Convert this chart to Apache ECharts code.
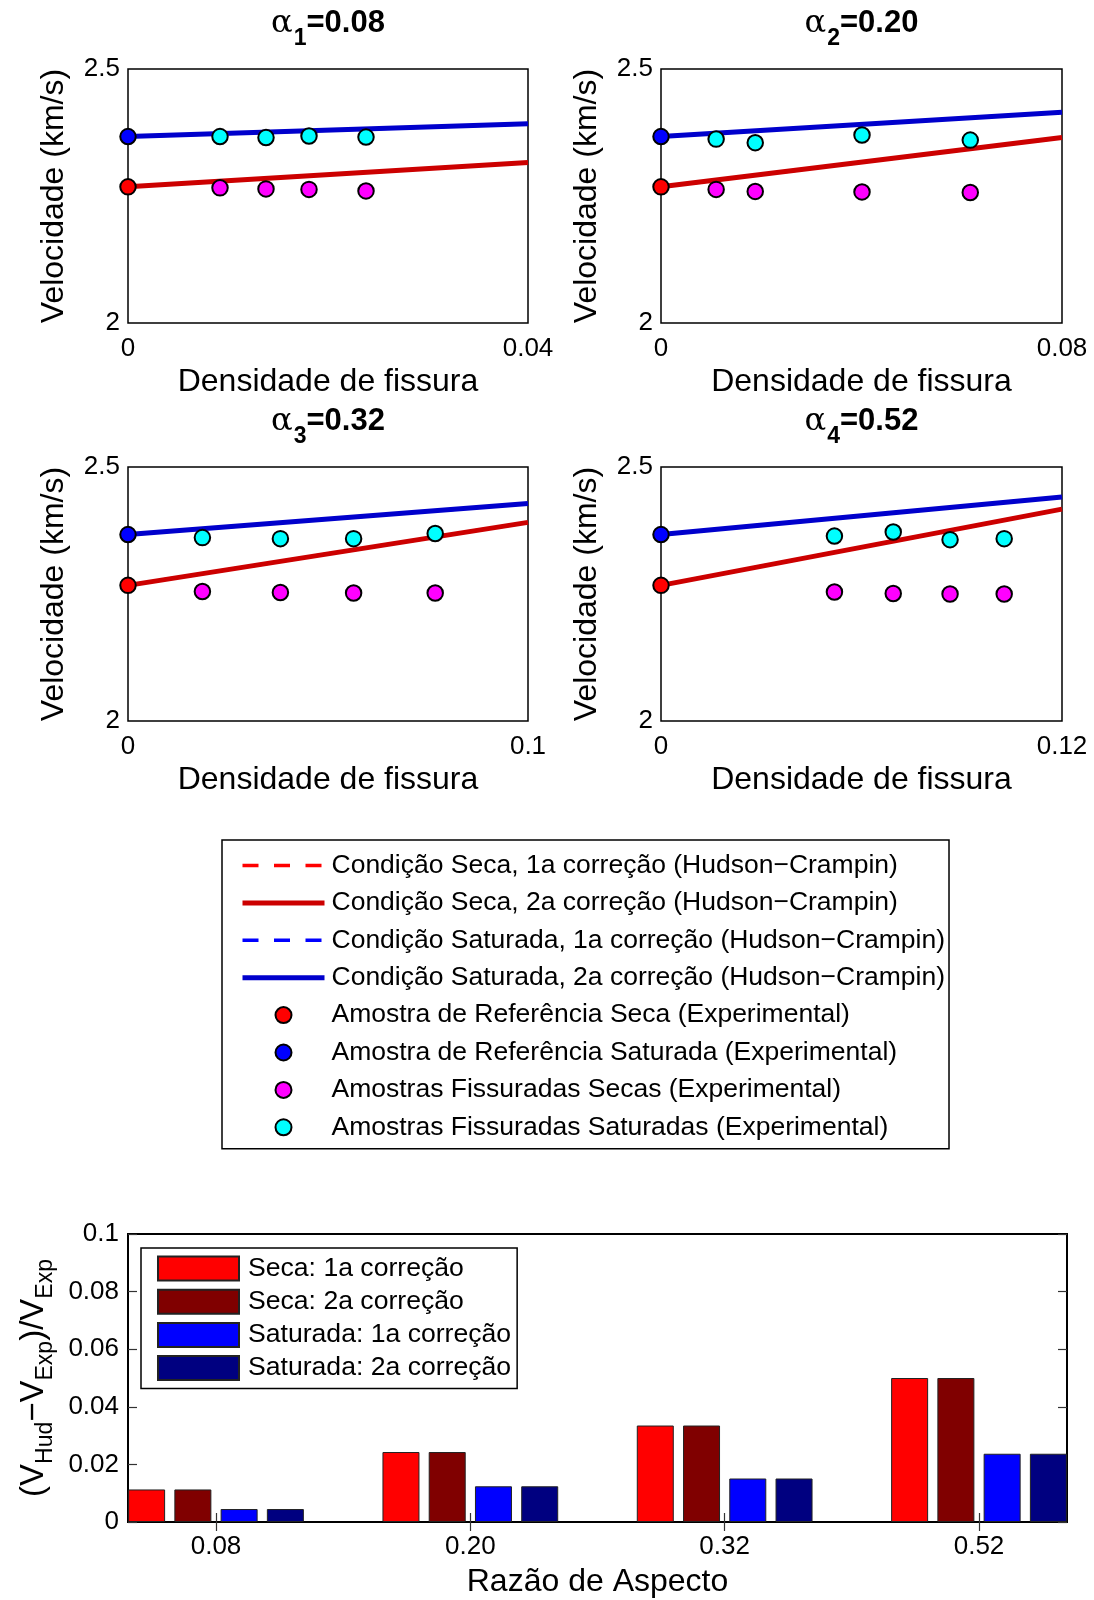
<!DOCTYPE html>
<html><head><meta charset="utf-8">
<script src="https://cdn.jsdelivr.net/npm/echarts@6/dist/echarts.min.js"></script>
<style>html,body{margin:0;padding:0;background:#fff}#c{width:1094px;height:1600px}</style>
</head><body><div id="c"></div>
<script>
// ---------------- DATA ----------------
const alphaLabels = ['0.08', '0.20', '0.32', '0.52'];
const crackDensityMax = [0.04, 0.08, 0.1, 0.12];
const refSeca = [2.268, 2.268, 2.267, 2.267];
const refSaturada = [2.367, 2.367, 2.367, 2.367];
const secaLineEnd = [2.316, 2.365, 2.391, 2.417];
const saturadaLineEnd = [2.392, 2.415, 2.428, 2.441];
const crackDensity = [
  [0.0092, 0.0138, 0.0181, 0.0238],
  [0.0110, 0.0188, 0.0401, 0.0617],
  [0.0186, 0.0381, 0.0564, 0.0768],
  [0.0519, 0.0695, 0.0865, 0.1027]
];
const fissSeca = [
  [2.266, 2.264, 2.263, 2.260],
  [2.263, 2.259, 2.258, 2.257],
  [2.255, 2.253, 2.252, 2.252],
  [2.254, 2.251, 2.250, 2.250]
];
const fissSaturada = [
  [2.367, 2.365, 2.368, 2.366],
  [2.362, 2.355, 2.370, 2.360],
  [2.361, 2.359, 2.359, 2.369],
  [2.364, 2.372, 2.357, 2.359]
];
const aspectRatioLabels = ['0.08', '0.20', '0.32', '0.52'];
const errSecaCorr1 = [0.0113, 0.0243, 0.0335, 0.0500];
const errSecaCorr2 = [0.0113, 0.0243, 0.0335, 0.0500];
const errSatCorr1 = [0.0045, 0.0124, 0.0151, 0.0237];
const errSatCorr2 = [0.0045, 0.0124, 0.0151, 0.0237];

// ---------------- NAMES ----------------
const N_SECA1 = 'Condição Seca, 1a correção (Hudson−Crampin)';
const N_SECA2 = 'Condição Seca, 2a correção (Hudson−Crampin)';
const N_SAT1 = 'Condição Saturada, 1a correção (Hudson−Crampin)';
const N_SAT2 = 'Condição Saturada, 2a correção (Hudson−Crampin)';
const N_REFS = 'Amostra de Referência Seca (Experimental)';
const N_REFT = 'Amostra de Referência Saturada (Experimental)';
const N_FS = 'Amostras Fissuradas Secas (Experimental)';
const N_FT = 'Amostras Fissuradas Saturadas (Experimental)';
const B_NAMES = ['Seca: 1a correção', 'Seca: 2a correção', 'Saturada: 1a correção', 'Saturada: 2a correção'];
const B_COLORS = ['#FF0000', '#800000', '#0000FF', '#000080'];

// ---------------- LAYOUT ----------------
const FONT = '"Liberation Sans", Arial, Helvetica, sans-serif';
const DASH = [16, 15.5];
const panels = [
  {left: 128, top: 69, width: 400, height: 254},
  {left: 661, top: 69, width: 401, height: 254},
  {left: 128, top: 467, width: 400, height: 254},
  {left: 661, top: 467, width: 401, height: 254}
];
const barGrid = {left: 128, top: 1234, width: 939, height: 288};

const grids = [], xAxes = [], yAxes = [], series = [], titles = [];

panels.forEach((p, i) => {
  grids.push({left: p.left, top: p.top, width: p.width, height: p.height, show: true,
    borderColor: '#000', borderWidth: 1.5, backgroundColor: '#fff', outerBoundsMode: 'none', containLabel: false});
  xAxes.push({gridIndex: i, type: 'value', min: 0, max: crackDensityMax[i], interval: crackDensityMax[i],
    axisLine: {show: false}, axisTick: {show: false}, splitLine: {show: false},
    axisLabel: {fontSize: 26, color: '#000', fontFamily: FONT, margin: 13, showMinLabel: true, showMaxLabel: true},
    name: 'Densidade de fissura', nameLocation: 'middle', nameGap: 43,
    nameTextStyle: {fontSize: 32, color: '#000', fontFamily: FONT}});
  yAxes.push({gridIndex: i, type: 'value', min: 2, max: 2.5, interval: 0.5,
    axisLine: {show: false}, axisTick: {show: false}, splitLine: {show: false},
    axisLabel: {fontSize: 26, color: '#000', fontFamily: FONT, margin: 8, showMinLabel: true, showMaxLabel: true},
    name: 'Velocidade (km/s)', nameLocation: 'middle', nameGap: 58,
    nameTextStyle: {fontSize: 32, color: '#000', fontFamily: FONT}});
  titles.push({
    text: '{a|α}{s|' + (i + 1) + '}{b|=' + alphaLabels[i] + '}',
    left: p.left + p.width / 2 - 5, top: p.top - 66, textAlign: 'center',
    textStyle: {fontWeight: 'normal', rich: {
      a: {fontFamily: '"DejaVu Serif", "Liberation Serif", serif', fontSize: 32, fontWeight: 'normal', lineHeight: 32, verticalAlign: 'top', color: '#000'},
      s: {fontFamily: FONT, fontSize: 23, fontWeight: 'bold', lineHeight: 24, padding: [19, 0, 0, 1], verticalAlign: 'top', color: '#000'},
      b: {fontFamily: FONT, fontSize: 31, fontWeight: 'bold', lineHeight: 32, verticalAlign: 'top', color: '#000'}
    }}
  });
  const xm = crackDensityMax[i];
  series.push({name: N_SECA1, type: 'line', xAxisIndex: i, yAxisIndex: i, symbol: 'none',
    lineStyle: {color: '#FF0000', width: 3.3, type: DASH}, itemStyle: {color: '#FF0000'},
    data: [[0, refSeca[i]], [xm, secaLineEnd[i]]], z: 2});
  series.push({name: N_SECA2, type: 'line', xAxisIndex: i, yAxisIndex: i, symbol: 'none',
    lineStyle: {color: '#CC0000', width: 5}, itemStyle: {color: '#CC0000'},
    data: [[0, refSeca[i]], [xm, secaLineEnd[i]]], z: 3});
  series.push({name: N_SAT1, type: 'line', xAxisIndex: i, yAxisIndex: i, symbol: 'none',
    lineStyle: {color: '#0000FF', width: 3.3, type: DASH}, itemStyle: {color: '#0000FF'},
    data: [[0, refSaturada[i]], [xm, saturadaLineEnd[i]]], z: 2});
  series.push({name: N_SAT2, type: 'line', xAxisIndex: i, yAxisIndex: i, symbol: 'none',
    lineStyle: {color: '#0000CC', width: 5}, itemStyle: {color: '#0000CC'},
    data: [[0, refSaturada[i]], [xm, saturadaLineEnd[i]]], z: 3});
  const sc = (name, color, data) => ({name, type: 'scatter', xAxisIndex: i, yAxisIndex: i,
    symbol: 'circle', symbolSize: 15.5, itemStyle: {color, borderColor: '#000', borderWidth: 2, opacity: 1},
    data, z: 5});
  series.push(sc(N_REFS, '#FF0000', [[0, refSeca[i]]]));
  series.push(sc(N_REFT, '#0000FF', [[0, refSaturada[i]]]));
  series.push(sc(N_FS, '#FF00FF', crackDensity[i].map((x, k) => [x, fissSeca[i][k]])));
  series.push(sc(N_FT, '#00FFFF', crackDensity[i].map((x, k) => [x, fissSaturada[i][k]])));
});

// bar chart
grids.push({left: barGrid.left, top: barGrid.top, width: barGrid.width, height: barGrid.height, show: true,
  borderColor: '#000', borderWidth: 2, backgroundColor: '#fff', outerBoundsMode: 'none', containLabel: false});
const catPos = aspectRatioLabels.map((_, k) => k + 1);
const tickStyle = {show: true, inside: true, length: 9, lineStyle: {color: '#333', width: 1.2}};
xAxes.push({gridIndex: 4, type: 'value', position: 'bottom', min: 0.654, max: 4.346,
  axisLine: {show: false}, splitLine: {show: false},
  axisTick: Object.assign({customValues: catPos}, tickStyle),
  axisLabel: {customValues: catPos, formatter: v => aspectRatioLabels[Math.round(v) - 1],
    fontSize: 26, color: '#000', fontFamily: FONT, margin: 12},
  name: 'Razão de Aspecto', nameLocation: 'middle', nameGap: 44,
  nameTextStyle: {fontSize: 32, color: '#000', fontFamily: FONT}});
xAxes.push({gridIndex: 4, type: 'value', position: 'top', min: 0.654, max: 4.346,
  axisLine: {show: false}, splitLine: {show: false},
  axisTick: Object.assign({customValues: catPos}, tickStyle),
  axisLabel: {show: false}});
yAxes.push({gridIndex: 4, type: 'value', position: 'left', min: 0, max: 0.1, interval: 0.02,
  axisLine: {show: false}, splitLine: {show: false}, axisTick: tickStyle,
  axisLabel: {fontSize: 26, color: '#000', fontFamily: FONT, margin: 9, showMinLabel: true, showMaxLabel: true},
  name: '{m|(V}{s|Hud}{m|−V}{s|Exp}{m|)/V}{s|Exp}', nameLocation: 'middle', nameGap: 72,
  nameTextStyle: {color: '#000', fontFamily: FONT, fontSize: 33, rich: {
    m: {fontFamily: FONT, fontSize: 33, lineHeight: 38, verticalAlign: 'top', color: '#000'},
    s: {fontFamily: FONT, fontSize: 23, lineHeight: 26, padding: [17, 0, 0, 0], verticalAlign: 'top', color: '#000'}
  }}});
yAxes.push({gridIndex: 4, type: 'value', position: 'right', min: 0, max: 0.1, interval: 0.02,
  axisLine: {show: false}, splitLine: {show: false}, axisTick: tickStyle, axisLabel: {show: false}});

const barData = [errSecaCorr1, errSecaCorr2, errSatCorr1, errSatCorr2];
barData.forEach((arr, k) => {
  series.push({name: B_NAMES[k], type: 'bar', xAxisIndex: 4, yAxisIndex: 4,
    barWidth: 37, barGap: '25%',
    itemStyle: {color: B_COLORS[k], borderColor: '#222', borderWidth: 1},
    data: arr.map((v, j) => [catPos[j], v])});
});

const hideSym = {opacity: 0, borderWidth: 0};
const option = {
  animation: false,
  backgroundColor: '#fff',
  title: titles,
  grid: grids,
  xAxis: xAxes,
  yAxis: yAxes,
  legend: [
    {
      orient: 'vertical', left: 222, top: 840,
      data: [
        {name: N_SECA1, itemStyle: hideSym, lineStyle: {color: '#FF0000', width: 3.5, type: DASH}},
        {name: N_SECA2, itemStyle: hideSym, lineStyle: {color: '#CC0000', width: 5, type: 'solid'}},
        {name: N_SAT1, itemStyle: hideSym, lineStyle: {color: '#0000FF', width: 3.5, type: DASH}},
        {name: N_SAT2, itemStyle: hideSym, lineStyle: {color: '#0000CC', width: 5, type: 'solid'}},
        N_REFS, N_REFT, N_FS, N_FT],
      backgroundColor: '#fff', borderColor: '#000', borderWidth: 1.5, borderRadius: 0,
      padding: [12, 4, 8, 18],
      itemWidth: 82, itemHeight: 16, itemGap: 10.4,
      selectedMode: false,
      textStyle: {fontSize: 26.5, color: '#000', fontFamily: FONT, padding: [0, 0, 0, 2]}
    },
    {
      orient: 'vertical', left: 141, top: 1248,
      data: B_NAMES.map(n => ({name: n, icon: 'rect'})),
      backgroundColor: '#fff', borderColor: '#000', borderWidth: 1.5, borderRadius: 0,
      padding: [7, 6, 7, 16],
      itemWidth: 81, itemHeight: 24, itemGap: 6.2,
      selectedMode: false,
      textStyle: {fontSize: 26.6, color: '#000', fontFamily: FONT, padding: [0, 0, 0, 4]}
    }
  ],
  series
};
const chart = echarts.init(document.getElementById('c'), null, {renderer: 'canvas'});
chart.setOption(option);
</script></body></html>
